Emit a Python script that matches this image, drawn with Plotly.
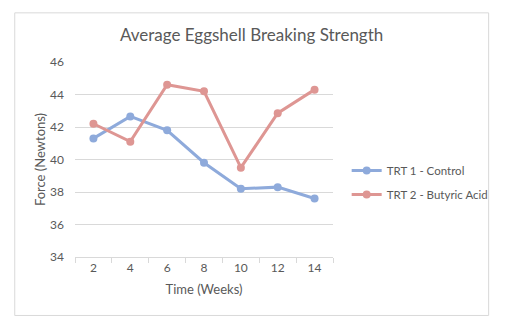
import plotly.graph_objects as go

weeks = ["2", "4", "6", "8", "10", "12", "14"]
control = [41.3, 42.65, 41.8, 39.8, 38.2, 38.3, 37.6]
butyric = [42.2, 41.1, 44.6, 44.2, 39.5, 42.85, 44.3]
y_ticks = [34, 36, 38, 40, 42, 44, 46]

FONT = "Lato, 'Open Sans', sans-serif"
GRAY = "#595959"

fig = go.Figure()
fig.add_trace(go.Scatter(
    x=weeks, y=control, name="TRT 1 - Control", mode="lines+markers", legendgroup="a",
    line=dict(color="#8EAADB", width=3), marker=dict(size=8, color="#8EAADB")))
fig.add_trace(go.Scatter(
    x=weeks, y=butyric, name="TRT 2 - Butyric Acid", mode="lines+markers", legendgroup="b",
    line=dict(color="#DE9693", width=3), marker=dict(size=8, color="#DE9693")))

L, R, T, B = 74.7, 333.3, 62.3, 256.7
W, H = 517, 330
pw, ph = R - L, B - T

def px_x(x):
    return (x - L) / pw

def px_y(y):
    return (B - y) / ph

fig.update_layout(
    width=W, height=H,
    margin=dict(l=L, r=W - R, t=T, b=H - B, pad=0),
    paper_bgcolor="white", plot_bgcolor="white",
    font=dict(family=FONT, color=GRAY, size=12),
    title=dict(text="Average Eggshell Breaking Strength", x=px_x(251.7), xref="paper",
               xanchor="center", y=1 - 35 / H, yanchor="middle",
               font=dict(size=17, color=GRAY, family=FONT)),
    showlegend=True,
    legend=dict(x=px_x(347), y=px_y(156), xanchor="left", yanchor="top",
                font=dict(size=11.5, color=GRAY), bgcolor="rgba(0,0,0,0)",
                traceorder="grouped", tracegroupgap=5),
    xaxis=dict(type="category", range=[-0.5, 6.5], showgrid=False,
               showline=True, linecolor="#D9D9D9", linewidth=1,
               ticks="outside", tickson="boundaries", ticklen=5, tickcolor="#D9D9D9",
               tickfont=dict(size=12, color=GRAY),
               title=dict(text="Time (Weeks)", font=dict(size=13, color=GRAY), standoff=10)),
    yaxis=dict(range=[34, 46], tickvals=y_ticks, showgrid=True, gridcolor="#D9D9D9",
               gridwidth=1, zeroline=False, showline=False, ticks="",
               ticklabelstandoff=10,
               tickfont=dict(size=12, color=GRAY),
               title=dict(text="Force (Newtons)", font=dict(size=13, color=GRAY), standoff=1)),
    shapes=[dict(type="rect", xref="paper", yref="paper",
                 x0=px_x(14.3), x1=px_x(489.3), y0=px_y(315), y1=px_y(13.3),
                 line=dict(color="#D9D9D9", width=1), fillcolor="rgba(0,0,0,0)", layer="below")],
)

fig.write_html("out.html")
